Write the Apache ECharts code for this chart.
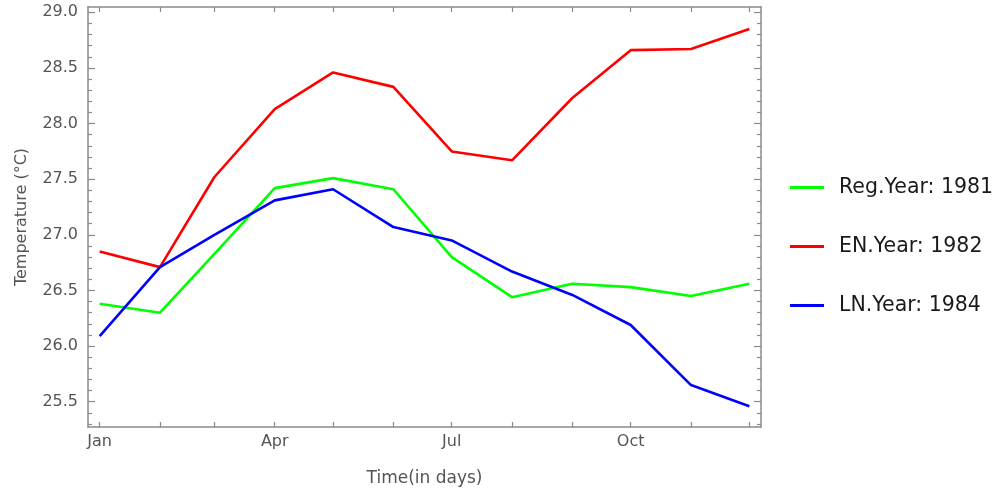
<!DOCTYPE html>
<html>
<head>
<meta charset="utf-8">
<script src="https://cdn.jsdelivr.net/npm/echarts@6/dist/echarts.min.js"></script>
<style>
  html, body { margin: 0; padding: 0; background: #ffffff; }
  #chart { width: 1005px; height: 488px; }
</style>
</head>
<body>
<div id="chart"></div>
<script>
// Day-of-year of each month start (data points sit at month starts)
const monthStartDays = [0, 31, 59, 90, 120, 151, 181, 212, 243, 273, 304, 334];
// Labelled x ticks
const xTickLabels = ['Jan', 'Apr', 'Jul', 'Oct'];
const xTickLabelDays = [0, 90, 181, 273];
// Series values (°C), Jan..Dec
const reg1981 = [26.38, 26.30, 26.83, 27.42, 27.51, 27.41, 26.80, 26.44, 26.56, 26.53, 26.45, 26.56];
const en1982  = [26.85, 26.71, 27.52, 28.13, 28.46, 28.33, 27.75, 27.67, 28.23, 28.66, 28.67, 28.85];
const ln1984  = [26.09, 26.71, 27.00, 27.31, 27.41, 27.07, 26.95, 26.67, 26.46, 26.19, 25.65, 25.46];
// Y ticks
const yMajorTicks = [25.5, 26.0, 26.5, 27.0, 27.5, 28.0, 28.5, 29.0];
const yMinorTicks = [25.3, 25.4, 25.6, 25.7, 25.8, 25.9, 26.1, 26.2, 26.3, 26.4, 26.6, 26.7, 26.8, 26.9,
                     27.1, 27.2, 27.3, 27.4, 27.6, 27.7, 27.8, 27.9, 28.1, 28.2, 28.3, 28.4, 28.6, 28.7, 28.8, 28.9];
const seriesNames = ['Reg.Year: 1981', 'EN.Year: 1982', 'LN.Year: 1984'];
const seriesColors = ['#00ff00', '#ff0000', '#0000ff'];

const FONT = 'DejaVu Sans';
const LABEL_COLOR = '#555555';
const FRAME_COLOR = '#8a8a8a';

function pairs(vals) { return monthStartDays.map((d, i) => [d, vals[i]]); }

const X_MIN = -6, X_MAX = 340;
const Y_MIN = 25.273, Y_MAX = 29.048;

const chart = echarts.init(document.getElementById('chart'), null, { renderer: 'canvas' });

const frameLine = { show: true, onZero: false, lineStyle: { color: FRAME_COLOR, width: 1.5 } };
const tickStyle = { color: FRAME_COLOR, width: 1.2 };

const option = {
  animation: false,
  backgroundColor: '#ffffff',
  grid: { left: 88, right: 244, top: 7, bottom: 61, containLabel: false, outerBoundsMode: 'none' },
  legend: {
    show: true,
    orient: 'vertical',
    left: 785,
    top: 172,
    icon: 'rect',
    itemWidth: 34,
    itemHeight: 3,
    itemGap: 38,
    selectedMode: false,
    data: seriesNames,
    textStyle: { fontFamily: FONT, fontSize: 20.5, lineHeight: 20, color: '#1a1a1a', padding: [0, 0, 0, 10] }
  },
  xAxis: [
    {
      type: 'value', position: 'bottom', min: X_MIN, max: X_MAX, offset: 0,
      axisLine: frameLine,
      splitLine: { show: false },
      axisTick: { show: true, inside: true, length: 5, customValues: monthStartDays, lineStyle: tickStyle },
      axisLabel: {
        show: true, customValues: xTickLabelDays, margin: 7,
        fontFamily: FONT, fontSize: 16, color: LABEL_COLOR,
        formatter: function (v) { const i = xTickLabelDays.indexOf(v); return i >= 0 ? xTickLabels[i] : ''; }
      },
      name: 'Time(in days)', nameLocation: 'middle', nameGap: 43,
      nameTextStyle: { fontFamily: FONT, fontSize: 17, color: LABEL_COLOR }
    },
    {
      type: 'value', position: 'top', min: X_MIN, max: X_MAX, offset: 0,
      axisLine: frameLine,
      splitLine: { show: false },
      axisTick: { show: true, inside: true, length: 5, customValues: monthStartDays, lineStyle: tickStyle },
      axisLabel: { show: false }
    }
  ],
  yAxis: [
    {
      type: 'value', position: 'left', min: Y_MIN, max: Y_MAX, offset: 0,
      axisLine: frameLine,
      splitLine: { show: false },
      axisTick: { show: true, inside: true, length: 7, customValues: yMajorTicks, lineStyle: tickStyle },
      axisLabel: {
        show: true, customValues: yMajorTicks, margin: 10,
        fontFamily: FONT, fontSize: 16, color: LABEL_COLOR,
        formatter: function (v) { return Number(v).toFixed(1); }
      },
      name: 'Temperature (°C)', nameLocation: 'middle', nameGap: 58,
      nameTextStyle: { fontFamily: FONT, fontSize: 16, color: LABEL_COLOR }
    },
    {
      type: 'value', position: 'left', min: Y_MIN, max: Y_MAX, offset: 0,
      axisLine: { show: false, onZero: false },
      splitLine: { show: false },
      axisTick: { show: true, inside: true, length: 4, customValues: yMinorTicks, lineStyle: tickStyle },
      axisLabel: { show: false }
    },
    {
      type: 'value', position: 'right', min: Y_MIN, max: Y_MAX, offset: 0,
      axisLine: frameLine,
      splitLine: { show: false },
      axisTick: { show: true, inside: true, length: 7, customValues: yMajorTicks, lineStyle: tickStyle },
      axisLabel: { show: false }
    },
    {
      type: 'value', position: 'right', min: Y_MIN, max: Y_MAX, offset: 0,
      axisLine: { show: false, onZero: false },
      splitLine: { show: false },
      axisTick: { show: true, inside: true, length: 4, customValues: yMinorTicks, lineStyle: tickStyle },
      axisLabel: { show: false }
    }
  ],
  series: [reg1981, en1982, ln1984].map((vals, i) => ({
    name: seriesNames[i],
    type: 'line',
    xAxisIndex: 0,
    yAxisIndex: 0,
    data: pairs(vals),
    showSymbol: false,
    symbol: 'none',
    color: seriesColors[i],
    lineStyle: { color: seriesColors[i], width: 2.6 },
    itemStyle: { color: seriesColors[i] },
    emphasis: { disabled: true }
  }))
};

chart.setOption(option);
</script>
</body>
</html>
